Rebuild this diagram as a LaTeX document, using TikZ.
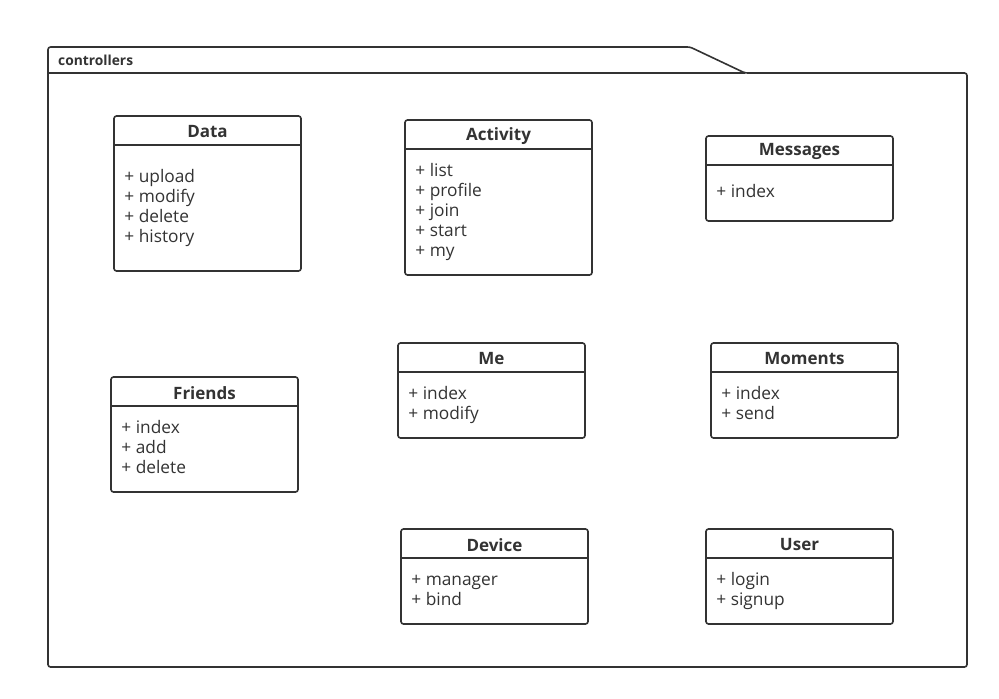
\documentclass[tikz,border=0pt]{standalone}
\usepackage{fontspec}
\setmainfont{Open Sans}
\definecolor{ink}{HTML}{333333}
\tikzset{
  pkg/.style={draw=ink, line width=1.6pt, rounded corners=2.5pt, line join=round},
  cls/.style={draw=ink, line width=1.6pt, rounded corners=2.5pt, fill=white, inner sep=0pt},
  sep/.style={draw=ink, line width=1.6pt},
  ctitle/.style={font=\fontsize{17}{20}\selectfont\bfseries, text=ink, inner sep=0pt},
  citem/.style={font=\fontsize{17.3}{20}\selectfont, text=ink, anchor=west, inner sep=0pt, text height=12pt, text depth=3pt},
  plabel/.style={font=\fontsize{13.8}{16}\selectfont\bfseries, text=ink, anchor=west, inner sep=0pt},
}
% #1 name, #2 cx, #3 cy, #4 height, #5 title, #6 offset of first item, #7 items
\newcommand\umlclass[7]{%
  \node[cls, minimum width=187pt, minimum height=#4pt] (#1) at (#2,#3) {};
  \draw[sep] ([yshift=-30pt]#1.north west) -- ([yshift=-30pt]#1.north east);
  \node[ctitle] (#1-t) at ([yshift=-16.5pt]#1.north) {#5};
  \foreach \t [count=\i] in {#7}
    \node[citem] (#1-\i) at ([xshift=11pt,yshift={-(#6+2.5+20*(\i-1))*1pt}]#1.north west) {+ \t};
}
\begin{document}
\begin{tikzpicture}[x=1pt,y=-1pt]
\useasboundingbox (0,0) rectangle (999,699);
\coordinate (p1) at (48,73);
\coordinate (p2) at (48,47);
\coordinate (p3) at (690,47);
\coordinate (p4) at (745,73);
\coordinate (p5) at (967,73);
\coordinate (p6) at (967,667);
\coordinate (p7) at (48,667);
\draw[pkg] (p1) -- (p2) -- (p3) -- (p4) -- (p5) -- (p6) -- (p7) -- cycle;
\draw[sep] (p1) -- (p4);
\node[plabel] (pl) at (58,60.5) {controllers};

\umlclass{data}{207.5}{193.5}{155}{Data}{60}{upload,modify,delete,history}
\umlclass{activity}{498.5}{197.5}{155}{Activity}{50}{list,profile,join,start,my}
\umlclass{messages}{799.5}{178.5}{85}{Messages}{55}{index}
\umlclass{friends}{204.5}{434.5}{115}{Friends}{50}{index,add,delete}
\umlclass{me}{491.5}{390.5}{95}{Me}{50}{index,modify}
\umlclass{moments}{804.5}{390.5}{95}{Moments}{50}{index,send}
\umlclass{device}{494.5}{576.5}{95}{Device}{50}{manager,bind}
\umlclass{user}{799.5}{576.5}{95}{User}{50}{login,signup}
\end{tikzpicture}
\end{document}
